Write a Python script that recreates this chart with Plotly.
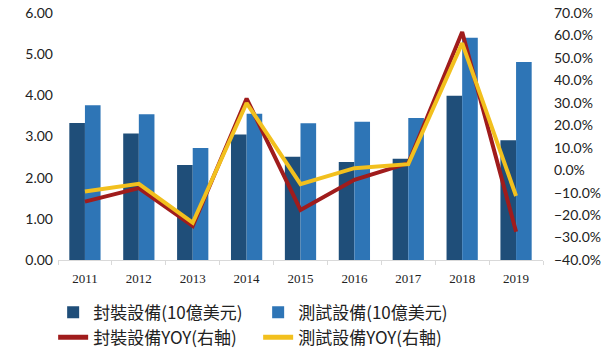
import plotly.graph_objects as go

years = ["2011", "2012", "2013", "2014", "2015", "2016", "2017", "2018", "2019"]
pkg_equip = [3.33, 3.07, 2.31, 3.05, 2.51, 2.38, 2.46, 3.99, 2.91]
test_equip = [3.76, 3.54, 2.72, 3.55, 3.32, 3.36, 3.45, 5.40, 4.81]
pkg_yoy = [-14.0, -8.0, -24.8, 31.9, -17.7, -4.3, 3.1, 61.5, -27.4]
test_yoy = [-9.5, -6.1, -23.4, 29.9, -6.2, 0.9, 2.7, 56.6, -11.5]

left_ticks = [0, 1, 2, 3, 4, 5, 6]
right_ticks = [-40, -30, -20, -10, 0, 10, 20, 30, 40, 50, 60, 70]

names = ["封裝設備(10億美元)", "測試設備(10億美元)", "封裝設備YOY(右軸)", "測試設備YOY(右軸)"]

fig = go.Figure()
fig.add_trace(go.Bar(x=years, y=pkg_equip, name=names[0], marker_color="#1F4E79", marker_line_width=0))
fig.add_trace(go.Bar(x=years, y=test_equip, name=names[1], marker_color="#2E75B6", marker_line_width=0))
fig.add_trace(go.Scatter(x=years, y=[v / 100 for v in pkg_yoy], name=names[2], yaxis="y2",
                         mode="lines", line=dict(color="#A01C1C", width=4)))
fig.add_trace(go.Scatter(x=years, y=[v / 100 for v in test_yoy], name=names[3], yaxis="y2",
                         mode="lines", line=dict(color="#F2C01E", width=4)))

fig.update_layout(
    width=615, height=350,
    margin=dict(l=58, r=72, t=13, b=90, autoexpand=False),
    paper_bgcolor="white", plot_bgcolor="white",
    barmode="group", bargap=0.42, bargroupgap=0,
    showlegend=True,
    legend=dict(orientation="h", x=-0.01, xanchor="left", y=-0.14, yanchor="top",
                entrywidth=160, entrywidthmode="pixels",
                font=dict(family="Noto Sans CJK TC", size=17, color="#222"),
                itemsizing="constant", tracegroupgap=0),
    xaxis=dict(type="category", showline=True, linecolor="#d9d9d9", linewidth=1,
               ticks="outside", tickson="boundaries", ticklen=4, tickcolor="#d9d9d9",
               ticklabelstandoff=6,
               tickfont=dict(family="Liberation Serif", size=13, color="#222"),
               showgrid=False),
    yaxis=dict(range=[0, 6], tickvals=left_ticks, tickformat=".2f", showgrid=False,
               zeroline=False, showline=False, ticklabelstandoff=4,
               tickfont=dict(family="Lato", size=14, color="#222")),
    yaxis2=dict(range=[-0.40, 0.70], tickvals=[v / 100 for v in right_ticks], tickformat=".1%",
                overlaying="y", side="right", showgrid=False, zeroline=False, showline=False,
                ticklabelstandoff=10,
                tickfont=dict(family="Lato", size=14, color="#222")),
)

fig.write_html("out.html")
